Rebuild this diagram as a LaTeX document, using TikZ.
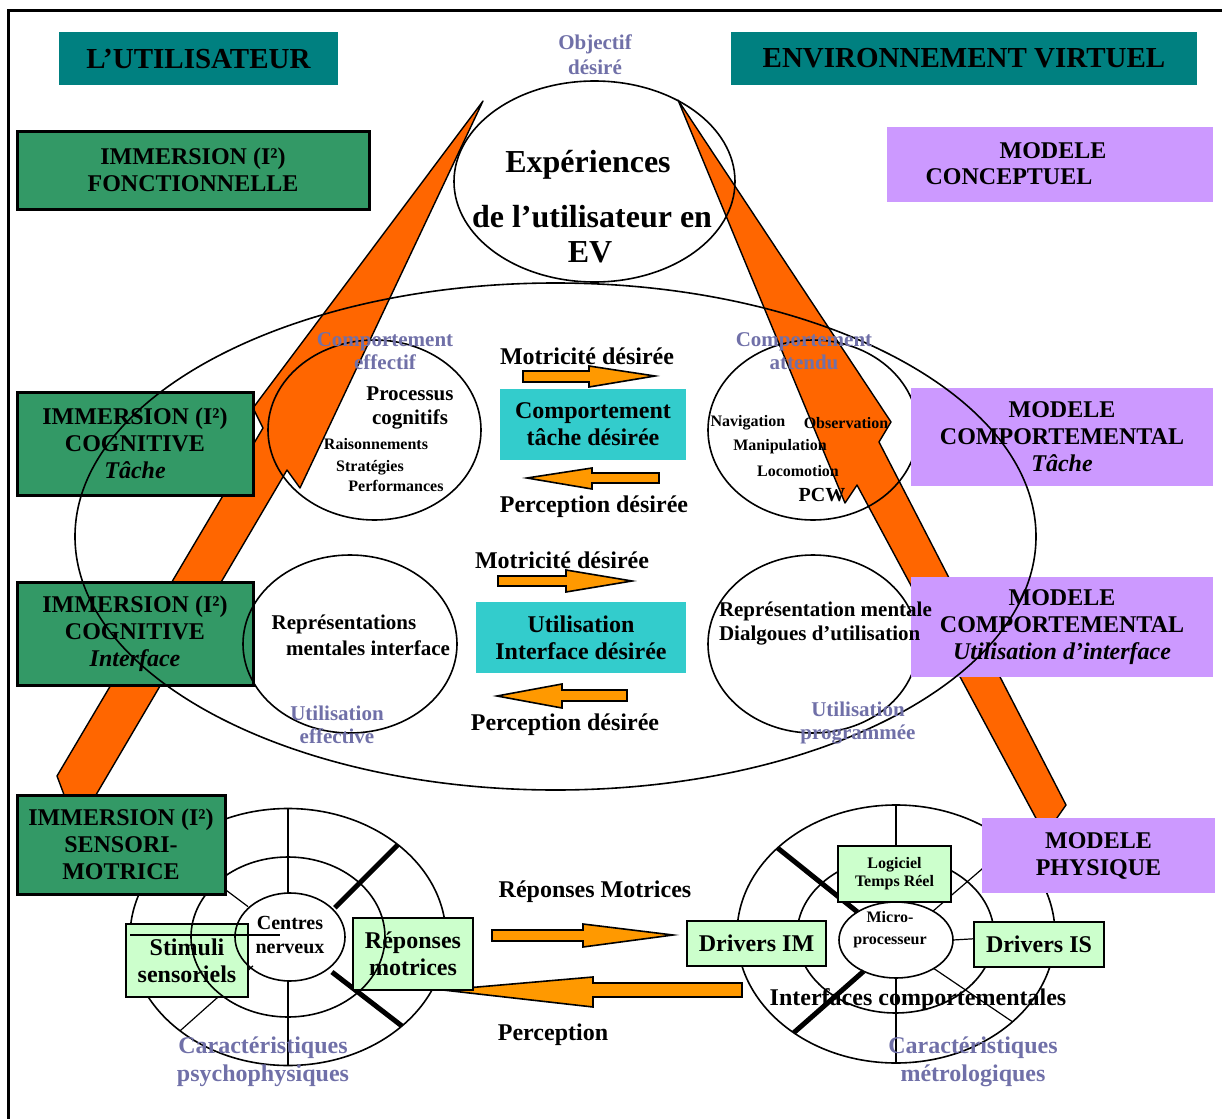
\documentclass[tikz,border=0pt]{standalone}
\usepackage{fontspec}
\setmainfont{Liberation Serif}
\usepackage{xcolor}
\usetikzlibrary{shapes.geometric}
\definecolor{titleteal}{RGB}{0,128,128}
\definecolor{immgreen}{RGB}{51,153,102}
\definecolor{modlila}{RGB}{204,153,255}
\definecolor{desircyan}{RGB}{51,204,204}
\definecolor{palegreen}{RGB}{204,255,204}
\definecolor{bigorange}{RGB}{255,102,0}
\definecolor{smallorange}{RGB}{255,153,0}
\definecolor{greyblue}{RGB}{112,112,168}

\begin{document}
\begin{tikzpicture}[x=0.5pt,y=-0.5pt,
  every node/.style={inner sep=0pt,outer sep=0pt},
  titlebox/.style={fill=titleteal,font=\fontsize{14.5}{16}\selectfont\bfseries},
  immbox/.style={draw,line width=1.5pt,fill=immgreen,align=center,font=\fontsize{12}{13.5}\selectfont\bfseries},
  modbox/.style={fill=modlila,align=center,font=\fontsize{12}{13.5}\selectfont\bfseries},
  wantbox/.style={fill=desircyan,align=center,font=\fontsize{12}{13.5}\selectfont\bfseries},
  drvbox/.style={draw,line width=0.8pt,fill=palegreen,align=center,font=\fontsize{12}{13.5}\selectfont\bfseries},
  bulle/.style={draw,ellipse,line width=0.8pt},
  greytxt/.style={text=greyblue,align=center,font=\fontsize{10.5}{11.5}\selectfont\bfseries},
  exptxt/.style={font=\fontsize{16}{18}\selectfont\bfseries},
  bigtxt/.style={font=\fontsize{12}{13.5}\selectfont\bfseries},
  midtxt/.style={align=center,font=\fontsize{10.5}{12}\selectfont\bfseries},
  smalltxt/.style={font=\fontsize{8}{9.5}\selectfont\bfseries},
  bigarrow/.style={draw,line width=0.7pt,fill=bigorange,line join=round},
  smallarrow/.style={draw,line width=0.8pt,fill=smallorange},
  spoke/.style={line width=0.6pt},
  thickspoke/.style={line width=2.5pt}
]
\useasboundingbox (0,0) rectangle (1222,1119);
%frame of the slide
\draw[line width=1.5pt] (8,1119) -- (8,10) -- (1222,10);

%the two big orange arrows
\draw[bigarrow] (483,101) -- (300,488) -- (287,470) -- (93,800) -- (66,800) -- (57,776) -- (263,428) -- (253,408) -- cycle;
\draw[bigarrow] (678,100) -- (891,422) -- (879,442) -- (1066,805) -- (1045,835) -- (857,485) -- (845,503) -- cycle;

%titles
\node[titlebox,minimum width=139.5pt,minimum height=26.5pt] (user) at (198.5,58.5) {L’UTILISATEUR};
\node[titlebox,minimum width=233pt,minimum height=26.5pt] (virtenv) at (964,58.5) {ENVIRONNEMENT VIRTUEL};

%left wheel (psychophysique)
\node[bulle,minimum width=158pt,minimum height=128.5pt] (psyout) at (288,937) {};
\draw[spoke] (psyout.90) -- ++(0,85);
\draw[spoke] (psyout.270) -- ++(0,-85);
\draw[spoke] (psyout.143) -- ++(76,57);
\draw[spoke] (psyout.221.8) -- ++(73,-65);
\draw[thickspoke] (psyout.40.7) -- ++(-63,63);
\draw[thickspoke] (psyout.322.3) -- ++(-70,-54);

%right wheel (metrologique)
\node[bulle,minimum width=159pt,minimum height=129pt] (metout) at (896,934) {};
\node[bulle,minimum width=98.5pt,minimum height=78pt] (metmid) at (895.5,935) {};
\node[bulle,minimum width=57pt,minimum height=38pt] (micro) at (896,940) {};
\draw[spoke] (metout.90) -- (micro.90);
\draw[spoke] (metout.270) -- (micro.270);
\draw[spoke] (metout.0) -- (micro.0);
\draw[spoke] (metout.38) -- (micro.38);
\draw[spoke] (metout.323.6) -- (micro.323.6);
\draw[thickspoke] (metout.144) -- (micro.144);
\draw[thickspoke] (metout.224) -- (micro.224);

%orange arrows between the two wheels
\draw[smallarrow] (492,930) -- (583,930) -- (583,924) -- (673,935) -- (583,947) -- (583,941) -- (492,941) -- cycle;
\draw[smallarrow] (742,983) -- (593,983) -- (593,977) -- (443,990) -- (593,1007) -- (593,997) -- (742,997) -- cycle;

%pale green boxes of the two wheels
\node[drvbox,minimum width=61pt,minimum height=36.5pt] (stimuli) at (187,960.5) {Stimuli\\sensoriels};
\node[drvbox,minimum width=60pt,minimum height=36pt] (reponses) at (413,954) {Réponses\\motrices};
\node[drvbox,font=\fontsize{8}{9}\selectfont\bfseries,minimum width=56.5pt,minimum height=28pt] (logiciel) at (894.5,874) {Logiciel\\Temps Réel};
\node[drvbox,minimum width=69.5pt,minimum height=22.5pt] (drvim) at (756.5,943.5) {Drivers IM};
\node[drvbox,minimum width=65pt,minimum height=22.5pt] (drvis) at (1039,944.5) {Drivers IS};

%inner rings of the left wheel
\node[bulle,minimum width=97pt,minimum height=80pt] (psymid) at (288,937) {};
\node[bulle,minimum width=55pt,minimum height=44pt] (centres) at (290,937) {};
\draw[spoke] ([yshift=1pt]psyout.west) -- ++(150,0);

%immersion boxes
\node[immbox,minimum width=176pt,minimum height=39pt] (fonct) at (193,170) {IMMERSION (I²)\\FONCTIONNELLE};
\node[immbox,minimum width=118pt,minimum height=51.5pt] (cogtache) at (135,443.5) {IMMERSION (I²)\\COGNITIVE\\\textit{Tâche}};
\node[immbox,minimum width=118pt,minimum height=51.5pt] (coginter) at (135,633.5) {IMMERSION (I²)\\COGNITIVE\\\textit{Interface}};
\node[immbox,minimum width=104pt,minimum height=49.5pt] (sensomot) at (121,844.5) {IMMERSION (I²)\\SENSORI-\\MOTRICE};

%the four circles inside the big ellipse
\node[bulle,minimum width=106.5pt,minimum height=90pt] (cogn) at (374.5,430) {};
\node[bulle,minimum width=105pt,minimum height=90pt] (attendu) at (813,430) {};
\node[bulle,minimum width=107pt,minimum height=89pt] (repint) at (350,644) {};
\node[bulle,minimum width=105pt,minimum height=89pt] (repprog) at (813,644) {};

%modele boxes
\node[modbox,minimum width=163pt,minimum height=37.5pt] (concept) at (1050,164.5) {};
\node[bigtxt] (concepta) at (1053,151) {MODELE};
\node[bigtxt] (conceptb) at (1009,177) {CONCEPTUEL};
\node[modbox,minimum width=151pt,minimum height=49pt] (comptache) at (1062,437) {MODELE\\COMPORTEMENTAL\\\textit{Tâche}};
\node[modbox,minimum width=151pt,minimum height=50pt] (compinter) at (1062,627) {MODELE\\COMPORTEMENTAL\\\textit{Utilisation d’interface}};
\node[modbox,minimum width=116.5pt,minimum height=37.5pt] (physique) at (1098.5,855.5) {MODELE\\PHYSIQUE};

%big ellipse and the experience bubble
\node[bulle,minimum width=480.5pt,minimum height=253.5pt] (monde) at (555.5,536.5) {};
\node[bulle,minimum width=140.5pt,minimum height=100.5pt] (exper) at (594.5,181.5) {};

%desired behaviour boxes
\node[wantbox,minimum width=93pt,minimum height=35.5pt] (tachedes) at (593,424.5) {Comportement\\tâche désirée};
\node[wantbox,minimum width=105pt,minimum height=35.5pt] (interdes) at (581,637.5) {Utilisation\\Interface désirée};

%small orange arrows
\draw[smallarrow] (523,371) -- (589,371) -- (589,366) -- (655,376) -- (589,387) -- (589,382) -- (523,382) -- cycle;
\draw[smallarrow] (659,473) -- (592,473) -- (592,468) -- (527,478) -- (592,489) -- (592,483) -- (659,483) -- cycle;
\draw[smallarrow] (498,576) -- (566,576) -- (566,570) -- (632,581) -- (566,592) -- (566,586) -- (498,586) -- cycle;
\draw[smallarrow] (627,690) -- (562,690) -- (562,684) -- (497,696) -- (562,708) -- (562,701) -- (627,701) -- cycle;

%texts
\node[greytxt,font=\fontsize{10.5}{12.5}\selectfont\bfseries] (objectif) at (595,54.5) {Objectif\\désiré};
\node[exptxt] (exp1) at (588,165) {Expériences};
\node[exptxt] (exp2) at (592,217) {de l’utilisateur en};
\node[exptxt] (exp3) at (590,252) {EV};
\node[greytxt] (effectif) at (385,351.5) {Comportement\\effectif};
\node[midtxt] (processus) at (410,408) {Processus\\cognitifs};
\node[smalltxt] (raison) at (376,444) {Raisonnements};
\node[smalltxt] (strat) at (370,468) {Stratégies};
\node[smalltxt] (perf) at (396,486) {Performances};
\node[greytxt] (attendutxt) at (804,351.5) {Comportement\\attendu};
\node[smalltxt] (navig) at (748,423) {Navigation};
\node[smalltxt] (observ) at (846,423) {Observation};
\node[smalltxt] (manip) at (780,447) {Manipulation};
\node[smalltxt] (locom) at (798,471) {Locomotion};
\node[font=\fontsize{10}{12}\selectfont\bfseries] (pcw) at (822,495) {PCW};
\node[bigtxt] (motdes1) at (587,356) {Motricité désirée};
\node[bigtxt] (perdes1) at (594,507) {Perception désirée};
\node[midtxt] (repres) at (344,624) {Représentations};
\node[midtxt] (mentales) at (368,648) {mentales interface};
\node[greytxt] (effective) at (337,725) {Utilisation\\effective};
\node[midtxt,align=left,anchor=west] (repmentale) at (719,624) {Représentation mentale\\Dialgoues d’utilisation};
\node[greytxt] (programmee) at (858,723) {Utilisation\\programmée};
\node[bigtxt] (motdes2) at (562,560) {Motricité désirée};
\node[bigtxt] (perdes2) at (565,725) {Perception désirée};
\node[bigtxt] (repmot) at (595,892) {Réponses Motrices};
\node[bigtxt] (percep) at (553,1035) {Perception};
\node[bigtxt] (interfaces) at (918,1000) {Interfaces comportementales};
\node[greytxt,font=\fontsize{12}{14}\selectfont\bfseries] (psycho) at (263,1062) {Caractéristiques\\psychophysiques};
\node[greytxt,font=\fontsize{12}{14}\selectfont\bfseries] (metro) at (973,1062) {Caractéristiques\\métrologiques};
\node[align=center,font=\fontsize{8}{11}\selectfont\bfseries] (microtxt) at (890,930) {Micro-\\processeur};
\node[align=center,font=\fontsize{10}{12}\selectfont\bfseries] (centrestxt) at (290,935) {Centres\\nerveux};
\end{tikzpicture}
\end{document}
